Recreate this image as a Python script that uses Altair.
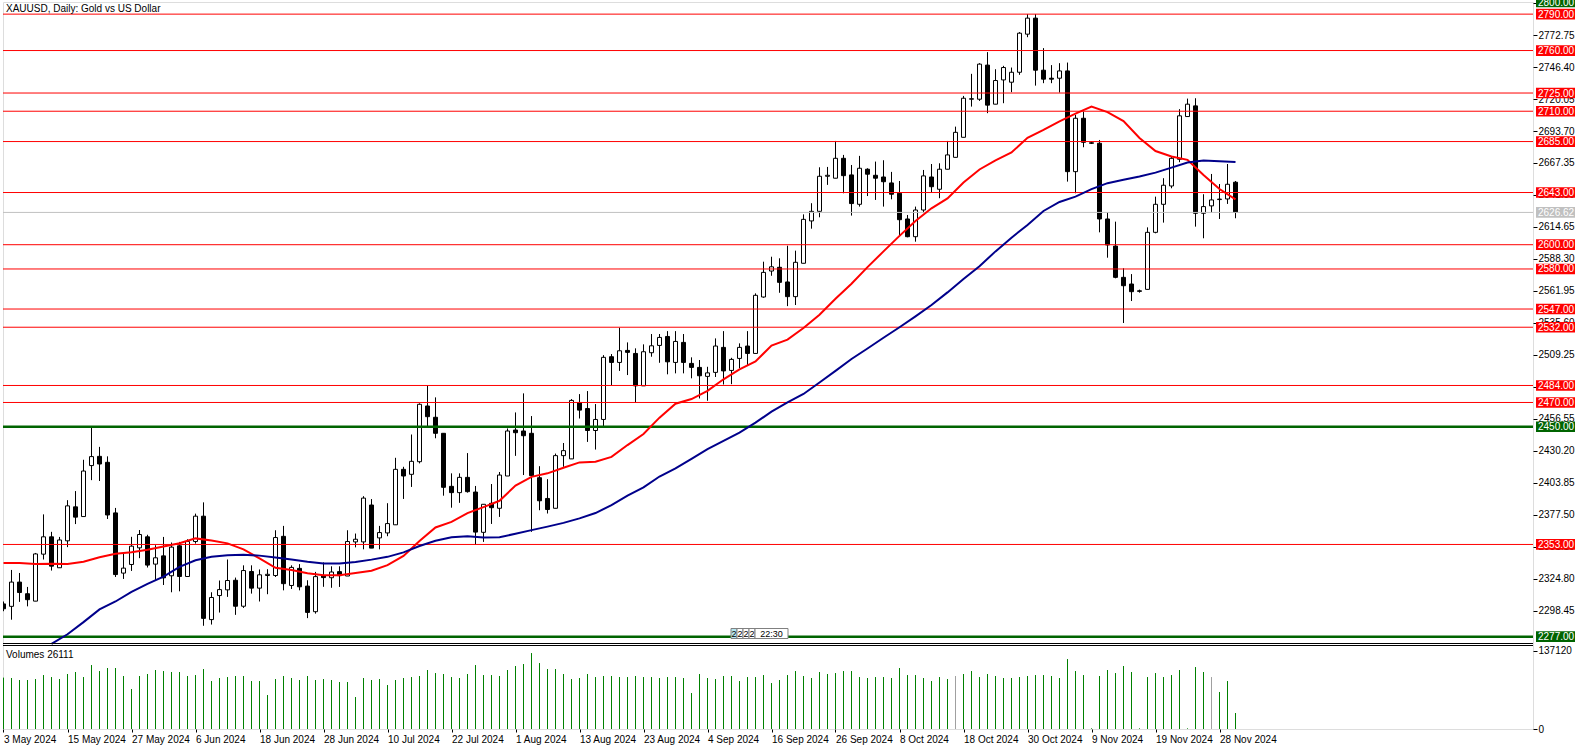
import altair as alt
import pandas as pd

title_text = "XAUUSD, Daily:  Gold vs US Dollar"
volume_text = "Volumes 26111"

opens = [2304, 2302, 2322, 2312.4, 2306.3, 2345, 2359.3, 2333.8, 2356, 2384,
         2376, 2418, 2425.6, 2420.7, 2379, 2329.4, 2336.5, 2350.2, 2359.3, 2336.8,
         2343.6, 2327.2, 2351.9, 2326.6, 2355.4, 2376.3, 2291.1, 2310.9, 2315.6, 2323.5,
         2302.1, 2330.7, 2317, 2327.4, 2327.4, 2359.7, 2319.2, 2333.3, 2318.7, 2297.6,
         2327.4, 2325.6, 2330.6, 2327, 2355.1, 2355.1, 2385.5, 2358.4, 2362.5, 2369.2,
         2414.9, 2410.8, 2421.2, 2467.1, 2457.8, 2444.6, 2400.9, 2395.7, 2408.3, 2396.2,
         2363, 2386.9, 2382.8, 2409.4, 2447.3, 2446.5, 2444.6, 2408, 2390.9, 2382.8,
         2426.2, 2423.5, 2470, 2465, 2446.9, 2456, 2507.7, 2503, 2512.9, 2510.4,
         2483.7, 2511, 2517, 2524.4, 2503, 2519.5, 2502.2, 2498.9, 2491.5, 2494.8,
         2515.4, 2496.4, 2506.3, 2516.5, 2510.4, 2556.9, 2578.3, 2581.4, 2569.3, 2557.2,
         2584.7, 2619.6, 2627.5, 2656.4, 2654.8, 2671.2, 2657.5, 2633.3, 2662.2, 2657.2,
         2655.8, 2650.9, 2642.4, 2621.2, 2606.6, 2628.6, 2655.8, 2645.7, 2662.2, 2672,
         2688.5, 2719.9, 2719.9, 2748, 2715.8, 2735.8, 2733.9, 2742.1, 2773.5, 2786.7,
         2743.8, 2737.2, 2737.2, 2743.2, 2660.2, 2704.2, 2684, 2683.6, 2621.2, 2598.9,
         2573.1, 2567.6, 2562, 2563.2, 2610.2, 2633.3, 2648.4, 2670.4, 2705.6, 2714.4,
         2625.9, 2632, 2637.2, 2637.7, 2651.5]
highs = [2306, 2332, 2329.5, 2318, 2346, 2377.8, 2363.4, 2359.2, 2389.5, 2397,
         2422.8, 2449.3, 2433.4, 2425.6, 2383.1, 2345.8, 2359.3, 2364.9, 2361, 2352.4,
         2359.2, 2354.6, 2355.1, 2357.3, 2378.4, 2387.7, 2313.6, 2323.3, 2340.6, 2325.7,
         2335.8, 2335.8, 2332.4, 2332.6, 2364.7, 2368.3, 2335.8, 2336.8, 2323.5, 2330.4,
         2338.2, 2335, 2335, 2364.7, 2362, 2392.8, 2390.4, 2368.3, 2387, 2424.4,
         2417, 2443.6, 2469.3, 2484, 2474.2, 2444.6, 2411.6, 2411.6, 2428.3, 2401.2,
         2386.1, 2402.8, 2412.7, 2448.6, 2461.8, 2477.5, 2458.8, 2417.5, 2406.8, 2427.9,
         2436.6, 2472.8, 2476.9, 2479.4, 2468.7, 2509, 2509.9, 2531.6, 2519.5, 2514.6,
         2517.9, 2526.4, 2526.4, 2528.8, 2528.8, 2526.4, 2507.2, 2505, 2499.4, 2522.8,
         2528.8, 2506.8, 2518.7, 2528.8, 2559.9, 2586, 2590.1, 2588.8, 2599.2, 2595.1,
         2625, 2634.2, 2663.8, 2664.1, 2685.5, 2674, 2665.7, 2673.2, 2663, 2668.5,
         2669.6, 2660, 2652.5, 2624.5, 2631.4, 2661.6, 2666.5, 2667.1, 2685.5, 2697.3,
         2722.6, 2740.8, 2749.6, 2758.7, 2744.6, 2747.4, 2746, 2775.2, 2790, 2790,
         2762, 2748, 2749.6, 2750.1, 2707, 2709.7, 2685, 2686.3, 2626.7, 2619,
         2580.6, 2575.8, 2563, 2614.3, 2639.6, 2654.8, 2672.6, 2711.7, 2720.4, 2720.7,
         2641.6, 2658.3, 2650, 2666.5, 2652.5]
lows = [2298, 2291, 2305.7, 2302, 2306.3, 2340.6, 2331.5, 2333.7, 2350.8, 2369.8,
        2376, 2406, 2405.3, 2374, 2326.2, 2324.6, 2331.2, 2341.7, 2334, 2323.2,
        2319.6, 2313.6, 2314.4, 2326.6, 2353.7, 2286, 2287, 2296.9, 2309.8, 2295,
        2300.7, 2312.5, 2306, 2312, 2326.2, 2315.2, 2316.3, 2315.2, 2292.3, 2296,
        2318.1, 2317.3, 2318, 2327, 2350.6, 2349, 2350, 2349, 2359.8, 2369.2,
        2390.5, 2400.4, 2419.8, 2450.6, 2440.5, 2393.2, 2383.3, 2387.3, 2395.7, 2352.6,
        2355.1, 2369.9, 2375.7, 2409.4, 2426, 2410.2, 2363.4, 2381.2, 2378.5, 2382.8,
        2417, 2423.5, 2456.8, 2437.5, 2431.2, 2450, 2484.3, 2496, 2492.6, 2469.7,
        2483.7, 2507.7, 2502.7, 2493.2, 2494, 2494, 2489.9, 2473.3, 2471.4, 2491,
        2484.8, 2485.1, 2498.1, 2500.8, 2510.4, 2556.3, 2574.4, 2560.4, 2549.4, 2550.3,
        2584.7, 2613.2, 2622.6, 2649.3, 2654.8, 2642.4, 2624, 2631.4, 2640.1, 2636.9,
        2631.4, 2637.4, 2608, 2606.1, 2602.5, 2626.4, 2642.9, 2638.3, 2662.2, 2672,
        2688.5, 2713.8, 2718.5, 2708.4, 2715.8, 2716.6, 2725.7, 2740, 2771, 2731.1,
        2733.1, 2733.1, 2725.4, 2652, 2642.4, 2680.3, 2683, 2610.2, 2589.3, 2572.3,
        2535.5, 2553.6, 2560.5, 2563.2, 2609.4, 2618.2, 2646.5, 2668, 2705.6, 2614.9,
        2605.3, 2626.4, 2621.2, 2633.6, 2621.8]
closes = [2300, 2322, 2313.4, 2307.5, 2345.2, 2359.3, 2335.1, 2356.7, 2384.8, 2375.5,
          2413.5, 2425.4, 2419.3, 2377.3, 2328.2, 2333.5, 2351.6, 2361.2, 2336, 2342,
          2325.5, 2350.8, 2326.6, 2355.4, 2376.3, 2292.1, 2309.3, 2315.8, 2323.3, 2302.1,
          2331.5, 2317, 2328, 2328.4, 2358.7, 2320.7, 2334.1, 2318.1, 2297, 2326.5,
          2325.7, 2330.3, 2327.3, 2355.4, 2357.3, 2391.2, 2350, 2362.8, 2370.2, 2414.9,
          2409.4, 2421.5, 2468.5, 2458.3, 2444.6, 2400.1, 2395.7, 2408.3, 2396.5, 2363.2,
          2386.1, 2383.3, 2410.2, 2446.5, 2445.1, 2442.6, 2409.7, 2389, 2381.8, 2426.2,
          2430.3, 2471.7, 2463.7, 2446.9, 2456, 2507.2, 2503, 2512.6, 2511.3, 2483.7,
          2511.8, 2516.7, 2523.6, 2503.5, 2520.3, 2503, 2498.9, 2492, 2494.4, 2516.5,
          2496, 2505.5, 2515.4, 2510.4, 2558.3, 2577.2, 2581.8, 2569, 2557.2, 2585.5,
          2620.9, 2627.5, 2656.4, 2657.2, 2671.2, 2656.9, 2633.9, 2663, 2658.1, 2654.8,
          2651.9, 2641.6, 2620.6, 2606.6, 2628.6, 2656.7, 2647.8, 2662.2, 2674, 2692.6,
          2720.7, 2720.3, 2748.8, 2715, 2735.3, 2746, 2742.1, 2774.3, 2786.7, 2743.8,
          2736.4, 2736.4, 2743.2, 2660.2, 2704.2, 2684.4, 2683.6, 2621.2, 2599.8, 2573.1,
          2566.2, 2561.3, 2561.6, 2610.2, 2633.3, 2649, 2671.2, 2706.2, 2715.8, 2625.9,
          2631.4, 2636.9, 2637.6, 2649.8, 2626.62]
volumes = [90000, 89300, 85800, 85800, 87500, 94500, 91000, 87500, 96300, 99800,
           91000, 112000, 101500, 106800, 106800, 92800, 70000, 92800, 96300, 103300,
           101500, 99800, 99800, 92800, 94500, 105000, 84000, 89300, 91000, 92800,
           92800, 84000, 84000, 59500, 87500, 92800, 89300, 85800, 92800, 85800,
           87500, 85800, 82300, 82300, 56000, 89300, 85800, 87500, 77000, 85800,
           89300, 91000, 92800, 103300, 98000, 96300, 91000, 89300, 96300, 112000,
           94500, 94500, 92800, 103300, 110300, 113800, 133000, 115500, 105000, 105000,
           96300, 87500, 89300, 96300, 91000, 92800, 92800, 91000, 91000, 92800,
           91000, 91000, 89300, 91000, 91000, 89300, 63000, 96300, 89300, 87500,
           92800, 92800, 84000, 91000, 91000, 94500, 80500, 85800, 94500, 101500,
           92800, 89300, 99800, 96300, 98000, 101500, 101500, 91000, 89300, 91000,
           91000, 89300, 106800, 94500, 94500, 89300, 84000, 91000, 87500, 92800,
           96300, 101500, 91000, 96300, 92800, 89300, 89300, 91000, 92800, 94500,
           94500, 92800, 89300, 122500, 101500, 94500, 1200, 92800, 103300, 98000,
           110300, 99800, 1200, 91000, 98000, 91000, 94500, 103300, 1200, 108500,
           99800, 91000, 64800, 84000, 28000]
grey_volume_bars = [119, 151]

red_ma_idx = list(range(0, 155, 2))
red_ma = [2337.8, 2337.8, 2337.0, 2337.2, 2337.0, 2338.8, 2342.5, 2345.4, 2346.6, 2348.7,
          2351.4, 2354.0, 2358.0, 2356.3, 2353.9, 2349.0, 2341.5, 2333.8, 2332.0, 2329.3,
          2327.7, 2327.6, 2329.4, 2331.3, 2335.9, 2343.6, 2355.8, 2367.0, 2371.6, 2378.8,
          2383.8, 2389.0, 2401.5, 2408.7, 2411.6, 2416.2, 2420.6, 2421.1, 2425.2, 2434.9,
          2444.0, 2457.5, 2469.0, 2472.8, 2479.6, 2489.1, 2497.2, 2503.8, 2516.9, 2521.8,
          2531.4, 2542.3, 2555.4, 2567.9, 2581.5, 2594.5, 2607.3, 2619.6, 2630.0, 2638.1,
          2651.3, 2662.0, 2669.5, 2676.0, 2688.1, 2694.6, 2701.6, 2708.0, 2713.8, 2709.3,
          2701.9, 2688.0, 2677.2, 2672.7, 2669.9, 2657.4, 2645.9, 2637.4]
blue_ma_idx = list(range(6, 155, 2))
blue_ma = [2271, 2279, 2289, 2299.5, 2306, 2314, 2320.5, 2326.5, 2334.6, 2340,
           2342.8, 2344.2, 2344.6, 2343.8, 2342.3, 2340.6, 2338.8, 2337.3, 2337.3, 2338.6,
           2340.5, 2342.8, 2346.5, 2351.7, 2356.0, 2359.0, 2359.8, 2358.8, 2359.0, 2361.8,
           2364.8, 2367.7, 2370.8, 2374.5, 2378.9, 2385.4, 2393.2, 2400.1, 2409.0, 2415.7,
           2423.6, 2431.5, 2438.4, 2445.2, 2453.4, 2462.4, 2470.0, 2477.0, 2486.5, 2496.0,
           2505.8, 2514.5, 2523.3, 2532.0, 2541.0, 2550.3, 2560.7, 2571.8, 2582.3, 2594.5,
           2605.8, 2616.3, 2627.8, 2635.2, 2639.6, 2645.8, 2650.7, 2653.5, 2656.2, 2659.4,
           2663.5, 2667.8, 2669.3, 2668.8, 2668.2]

date_tick_idx = [0, 8, 16, 24, 32, 40, 48, 56, 64, 72, 80, 88, 96, 104, 112, 120, 128, 136, 144, 152]
date_labels = ["3 May 2024", "15 May 2024", "27 May 2024", "6 Jun 2024", "18 Jun 2024",
               "28 Jun 2024", "10 Jul 2024", "22 Jul 2024", "1 Aug 2024", "13 Aug 2024",
               "23 Aug 2024", "4 Sep 2024", "16 Sep 2024", "26 Sep 2024", "8 Oct 2024",
               "18 Oct 2024", "30 Oct 2024", "9 Nov 2024", "19 Nov 2024", "28 Nov 2024"]

price_ticks = [2298.45, 2324.80, 2351.15, 2377.50, 2403.85, 2430.20, 2456.55, 2482.90,
               2509.25, 2535.60, 2561.95, 2588.30, 2614.65, 2641.00, 2667.35, 2693.70,
               2720.05, 2746.40, 2772.75, 2799.10]
volume_ticks = [0, 137120]

red_levels = [2790, 2760, 2725, 2710, 2685, 2643, 2600, 2580, 2547, 2532, 2484, 2470, 2353]
green_levels = [2450, 2277]
green_label_levels = [2800, 2450, 2277]
current_price = [2626.62]

marker_labels = ["2", "2", "2", "2", "22:30"]

FONT = "Liberation Sans"
W, H = 1530, 727

# ---------- scales ----------
x_scale = alt.Scale(domain=[-0.0625, 191.1875], nice=False, zero=False)
price_scale = alt.Scale(domain=[2271.8, 2800], range=[641, 0], nice=False, zero=False)
vol_scale = alt.Scale(domain=[0, 137120], range=[727, 648.7], nice=False, zero=False)

df = pd.DataFrame({"i": list(range(len(opens))), "open": opens, "high": highs,
                   "low": lows, "close": closes, "volume": volumes})
df["dir"] = ["up" if c >= o else "down" for o, c in zip(opens, closes)]
df["vgrey"] = ["grey" if k in grey_volume_bars else "green" for k in df["i"]]

label_expr = "[" + ",".join("'" + s + "'" for s in date_labels) + "][round(datum.value/8)]"

x_axis = alt.Axis(values=date_tick_idx, labelExpr=label_expr, labelAlign="left",
                  tickSize=3, tickColor="black", labelPadding=2, domain=False, grid=False,
                  title=None, labelFont=FONT, labelFontSize=10, labelColor="black",
                  labelOverlap=False, labelFlush=False, labelBound=False)
price_axis = alt.Axis(orient="right", values=price_ticks, format=".2f", tickSize=4,
                      tickColor="black", labelColor="black", labelFont=FONT, labelFontSize=10,
                      labelPadding=1, domain=False, grid=False, title=None,
                      labelOverlap=False, labelFlush=False, zindex=0)
vol_axis = alt.Axis(orient="right", values=volume_ticks, format="d", tickSize=4,
                    tickColor="black", labelColor="black", labelFont=FONT, labelFontSize=10,
                    labelPadding=1, domain=False, grid=False, title=None,
                    labelOverlap=False, labelFlush=False, zindex=0)


def X(field):
    return alt.X(field, scale=x_scale, axis=x_axis)


base = alt.Chart(df)

wicks = base.mark_rule(color="black", strokeWidth=1, clip=True).encode(
    x=X("i:Q"),
    y=alt.Y("low:Q", scale=price_scale, axis=price_axis),
    y2="high:Q",
)
bodies = base.transform_calculate(
    left="datum.i - 0.25", right="datum.i + 0.25"
).mark_rect(stroke="black", strokeWidth=1, clip=True).encode(
    x=X("left:Q"),
    x2="right:Q",
    y=alt.Y("open:Q", scale=price_scale, axis=price_axis),
    y2="close:Q",
    fill=alt.Color("dir:N", scale=alt.Scale(domain=["up", "down"], range=["white", "black"]), legend=None),
)


def hlines(levels, color, width):
    return alt.Chart(pd.DataFrame({"level": levels})).mark_rule(
        color=color, strokeWidth=width, clip=True
    ).encode(x=alt.value(0), x2=alt.value(W),
             y=alt.Y("level:Q", scale=price_scale, axis=price_axis))


red_lines = hlines(red_levels, "#ff0000", 1)
green_lines = hlines(green_levels, "#006400", 2.5)
grey_line = hlines(current_price, "#c0c0c0", 1)

red_ma_line = alt.Chart(pd.DataFrame({"i": red_ma_idx, "v": red_ma})).mark_line(
    color="#ff0000", strokeWidth=2, clip=True).encode(
    x=X("i:Q"),
    y=alt.Y("v:Q", scale=price_scale, axis=price_axis))
blue_ma_line = alt.Chart(pd.DataFrame({"i": blue_ma_idx, "v": blue_ma})).mark_line(
    color="#00008b", strokeWidth=2, clip=True).encode(
    x=X("i:Q"),
    y=alt.Y("v:Q", scale=price_scale, axis=price_axis))


def label_boxes(levels, color):
    d = pd.DataFrame({"level": levels})
    b = alt.Chart(d).transform_calculate(
        top="datum.level + 4.4", bot="datum.level - 4.4"
    )
    rect = b.mark_rect(fill=color).encode(
        x=alt.value(W + 3), x2=alt.value(W + 42),
        y=alt.Y("top:Q", scale=price_scale, axis=price_axis), y2="bot:Q")
    txt = b.mark_text(color="white", align="left", baseline="middle", font=FONT,
                      fontSize=10, dy=0.5).encode(
        x=alt.value(W + 5),
        y=alt.Y("level:Q", scale=price_scale, axis=price_axis),
        text=alt.Text("level:Q", format=".2f"))
    return [rect, txt]


boxes = (label_boxes(red_levels, "#ff0000") + label_boxes(green_label_levels, "#006400")
         + label_boxes(current_price, "#c0c0c0"))

one = pd.DataFrame({"t": [title_text]})
title_layer = alt.Chart(one).mark_text(
    align="left", baseline="middle", font=FONT, fontSize=10, color="black").encode(
    x=alt.value(3), y=alt.value(7), text="t:N")

sep1 = alt.Chart(one).mark_rule(color="black", strokeWidth=1).encode(
    x=alt.value(0), x2=alt.value(W), y=alt.value(641.5))
sep2 = alt.Chart(one).mark_rule(color="black", strokeWidth=1).encode(
    x=alt.value(0), x2=alt.value(W), y=alt.value(643.5))

# little time-marker boxes near the 2277 line
marker_layers = []
mx = [728, 734, 740, 746, 752]
mw = [6, 6, 6, 6, 33]
for k, (lab, x0, w) in enumerate(zip(marker_labels, mx, mw)):
    md = pd.DataFrame({"t": [lab]})
    marker_layers.append(alt.Chart(md).mark_rect(
        fill="#b4e6f0" if k == 0 else "white", stroke="#808080", strokeWidth=1).encode(
        x=alt.value(x0), x2=alt.value(x0 + w), y=alt.value(626.5), y2=alt.value(636.5)))
    marker_layers.append(alt.Chart(md).mark_text(
        font=FONT, fontSize=9, color="black", align="center", baseline="middle").encode(
        x=alt.value(x0 + w / 2), y=alt.value(632), text="t:N"))

price_group = alt.layer(wicks, bodies, red_lines, green_lines, grey_line,
                        red_ma_line, blue_ma_line, *boxes, title_layer, sep1, sep2,
                        *marker_layers)

vol_rules = base.transform_calculate(base0="0").mark_rule(strokeWidth=1, clip=True).encode(
    x=X("i:Q"),
    y=alt.Y("volume:Q", scale=vol_scale, axis=vol_axis),
    y2="base0:Q",
    color=alt.Color("vgrey:N", scale=alt.Scale(domain=["green", "grey"], range=["#008000", "#a0a0a0"]), legend=None),
)
vol_text = alt.Chart(pd.DataFrame({"t": [volume_text]})).mark_text(
    align="left", baseline="middle", font=FONT, fontSize=10, color="black").encode(
    x=alt.value(3), y=alt.value(653), text="t:N")

vol_group = alt.layer(vol_rules, vol_text)

chart = alt.layer(price_group, vol_group).resolve_scale(y="independent").properties(
    width=W, height=H,
    autosize=alt.AutoSizeParams(type="none"),
    padding={"left": 3, "top": 2, "right": 53, "bottom": 21},
    background="white",
).configure_view(stroke="black", strokeWidth=1).configure(font=FONT)

chart.save("out.html", embed_options={"renderer": "svg", "actions": False})
